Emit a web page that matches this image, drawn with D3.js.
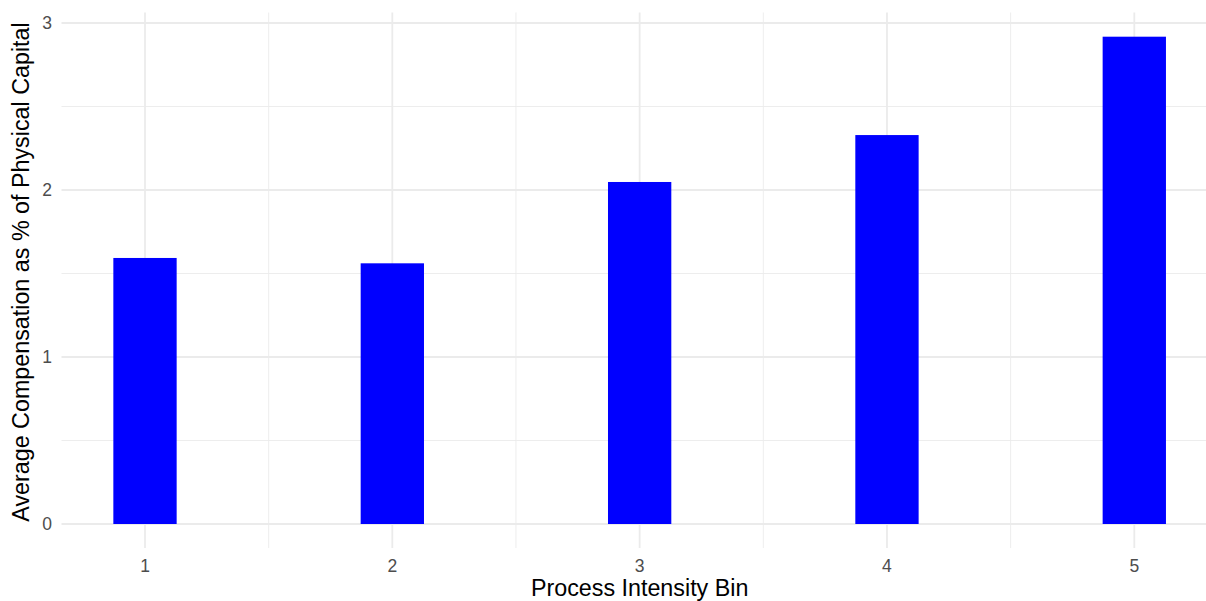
<!DOCTYPE html>
<html><head><meta charset="utf-8">
<script src="https://cdn.jsdelivr.net/npm/d3@7"></script>
<style>body{margin:0;background:#fff;}svg{display:block;font-family:"Liberation Sans",Arial,sans-serif;}</style>
</head><body>
<svg id="chart" width="1206" height="601"></svg>
<script>
const bins = [1, 2, 3, 4, 5];
const values = [1.593, 1.561, 2.048, 2.329, 2.918];
const yTicks = [0, 1, 2, 3];
const yMinor = [0.5, 1.5, 2.5];
const xMinor = [1.5, 2.5, 3.5, 4.5];
const xTitle = "Process Intensity Bin";
const yTitle = "Average Compensation as % of Physical Capital";

const svg = d3.select("#chart");
const W = 1206, H = 601;
const panel = {left: 61.5, top: 12.5, bottom: 548};
const barW = 0.256;

const x = d3.scaleLinear().domain([1, 5]).range([145, 1134.3]);
const y = d3.scaleLinear().domain([0, 3]).range([524, 23]);

const g = svg.append("g");
const gridCol = "#ebebeb";
g.selectAll(".hmin").data(yMinor).enter().append("line")
  .attr("x1", panel.left).attr("x2", W).attr("y1", d => y(d)).attr("y2", d => y(d))
  .attr("stroke", gridCol).attr("stroke-width", 0.9);
g.selectAll(".vmin").data(xMinor).enter().append("line")
  .attr("x1", d => x(d)).attr("x2", d => x(d)).attr("y1", panel.top).attr("y2", panel.bottom)
  .attr("stroke", gridCol).attr("stroke-width", 0.9);
g.selectAll(".hmaj").data(yTicks).enter().append("line")
  .attr("x1", panel.left).attr("x2", W).attr("y1", d => y(d)).attr("y2", d => y(d))
  .attr("stroke", gridCol).attr("stroke-width", 1.8);
g.selectAll(".vmaj").data(bins).enter().append("line")
  .attr("x1", d => x(d)).attr("x2", d => x(d)).attr("y1", panel.top).attr("y2", panel.bottom)
  .attr("stroke", gridCol).attr("stroke-width", 1.8);

g.selectAll(".bar").data(bins).enter().append("rect")
  .attr("x", (d) => x(d - barW / 2))
  .attr("width", (d) => x(d + barW / 2) - x(d - barW / 2))
  .attr("y", (d, i) => y(values[i]))
  .attr("height", (d, i) => y(0) - y(values[i]))
  .attr("fill", "#0000ff");

g.selectAll(".ylab").data(yTicks).enter().append("text")
  .attr("x", 52).attr("y", d => y(d)).attr("dy", "0.35em")
  .attr("text-anchor", "end").attr("font-size", 17.5).attr("fill", "#4d4d4d")
  .text(d => d);
g.selectAll(".xlab").data(bins).enter().append("text")
  .attr("x", d => x(d)).attr("y", 565.5).attr("dy", "0.35em")
  .attr("text-anchor", "middle").attr("font-size", 17.5).attr("fill", "#4d4d4d")
  .text(d => d);

svg.append("text").attr("x", x(3)).attr("y", 595.5)
  .attr("text-anchor", "middle").attr("font-size", 23.3).attr("fill", "#000")
  .text(xTitle);
svg.append("text").attr("transform", `translate(29,272) rotate(-90)`)
  .attr("text-anchor", "middle").attr("font-size", 23.3).attr("fill", "#000")
  .text(yTitle);
</script>
</body></html>
